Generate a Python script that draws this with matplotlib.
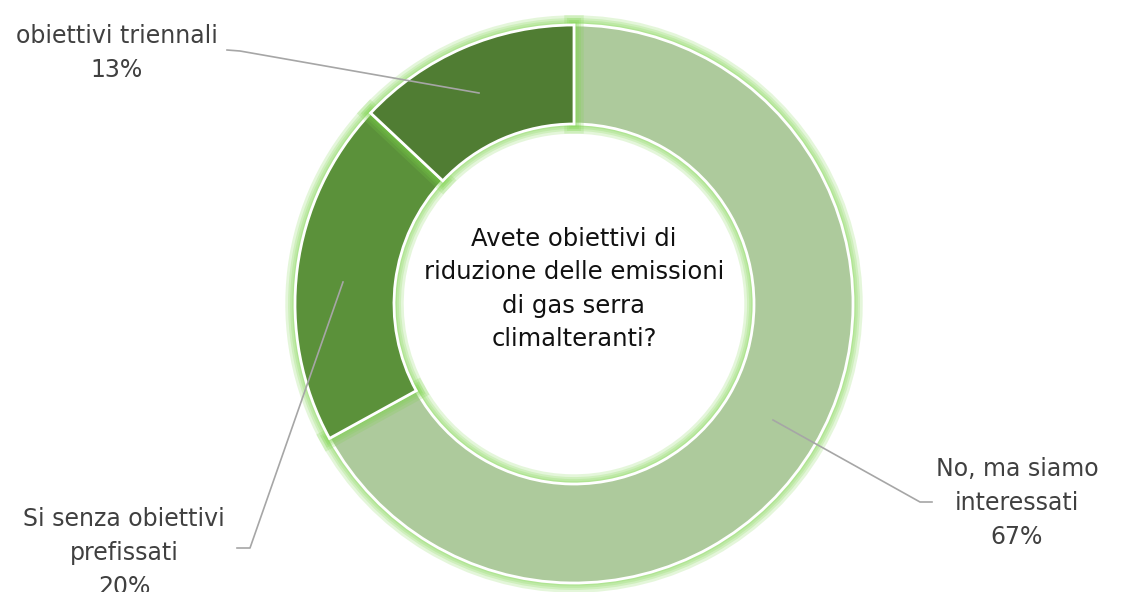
import matplotlib.pyplot as plt
import matplotlib.patheffects as pe

# dati
labels = ['No, ma siamo\ninteressati', 'Si senza obiettivi\nprefissati', 'obiettivi triennali']
values = [67, 20, 13]
colors = ['#ADCA9C', '#5B913A', '#507D33']
title = 'Avete obiettivi di\nriduzione delle emissioni\ndi gas serra\nclimalteranti?'

W, H = 1121, 592
fig = plt.figure(figsize=(W / 100, H / 100), dpi=100)
ax = fig.add_axes([0, 0, 1, 1])

cx, cy = 574, H - 304
r_out, r_in = 279, 180

wedges, _ = ax.pie(values, colors=colors, startangle=90, counterclock=False,
                   center=(cx, cy), radius=r_out, frame=True,
                   wedgeprops=dict(width=r_out - r_in, edgecolor='white', linewidth=2))
glow = [pe.Stroke(linewidth=lw, foreground='#7CD44A', alpha=0.2) for lw in (14, 10, 7, 4)]
for w in wedges:
    w.set_path_effects(glow + [pe.Normal()])
ax.set_xlim(0, W)
ax.set_ylim(0, H)
ax.set_aspect('equal')
ax.axis('off')

# testo centrale
ax.text(cx, H - 289, title, ha='center', va='center', fontsize=17.5,
        color='#111111', linespacing=1.5)

# etichette con linee guida
lab_col = '#404040'
line_col = '#A6A6A6'
lab_pos = [(1017, 503), (124, 553), (117, 53)]
leaders = [[(773, 420), (920, 502), (932, 502)],
           [(343, 282), (250, 548), (237, 548)],
           [(479, 93), (240, 51), (227, 50)]]
for lab, v, (lx, ly), pts in zip(labels, values, lab_pos, leaders):
    ax.text(lx, H - ly, lab + '\n' + str(v) + '%', ha='center', va='center',
            fontsize=17, color=lab_col, linespacing=1.55)
    ax.plot([p[0] for p in pts], [H - p[1] for p in pts], color=line_col, lw=1.2)

fig.savefig('out.png', dpi=100)
